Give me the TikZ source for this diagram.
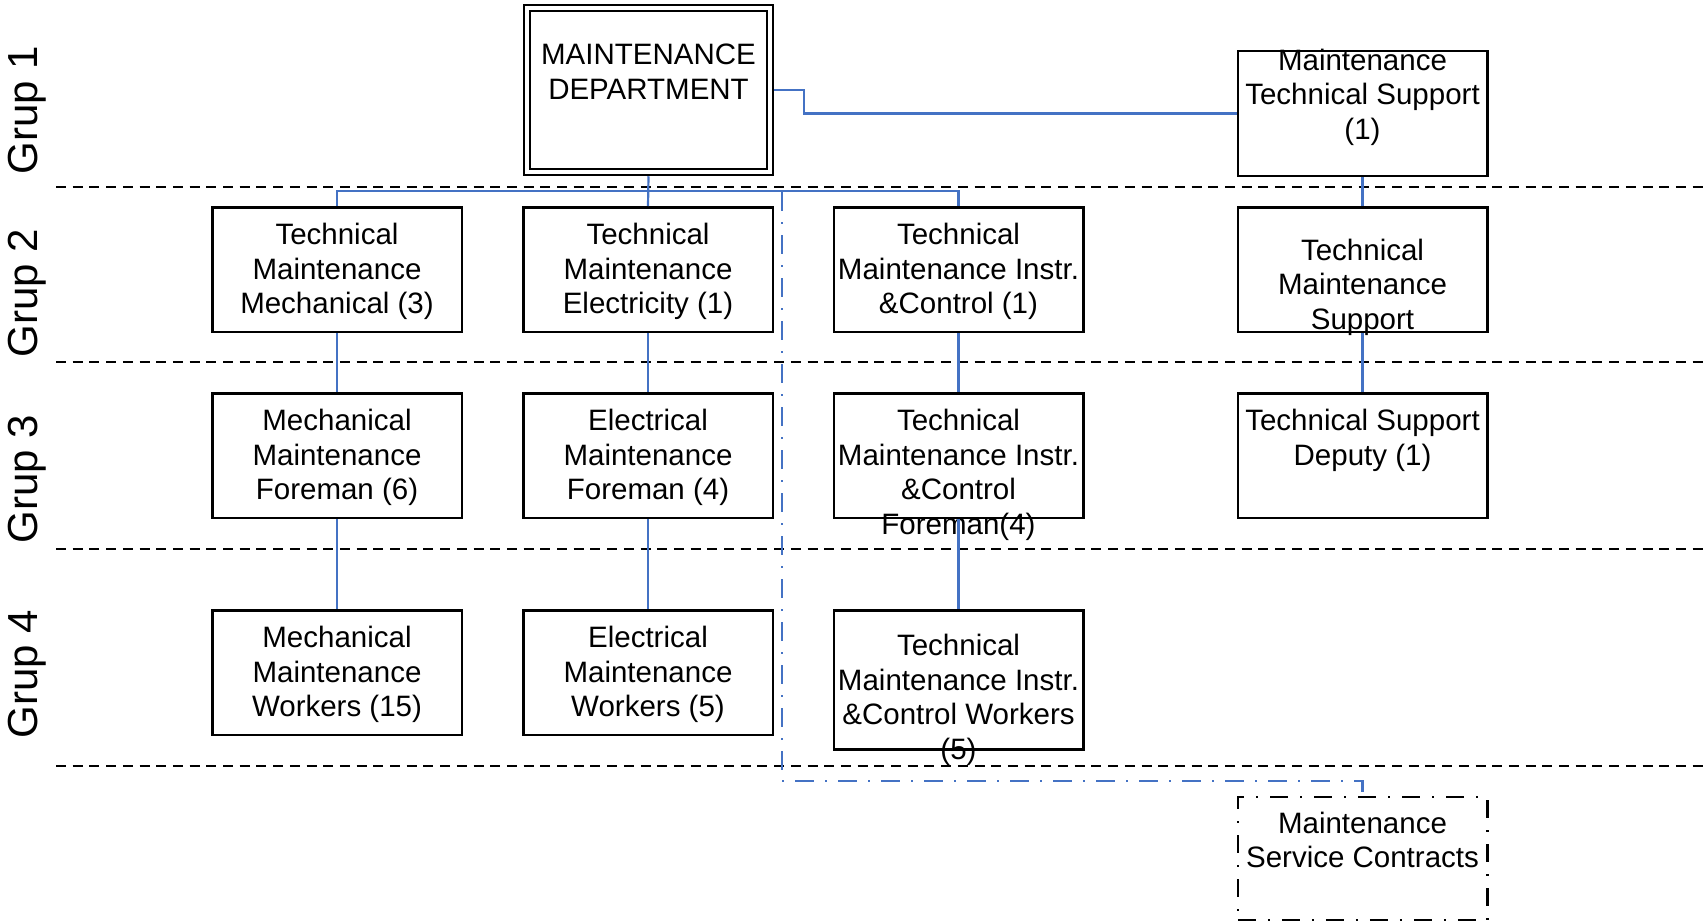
\documentclass[tikz,border=0pt]{standalone}
\usepackage{fontspec}
\setmainfont{Liberation Sans}
\usetikzlibrary{calc}
\definecolor{linkblue}{HTML}{4472C4}
\tikzset{
  unitbox/.style={draw=black, line width=2.5pt, minimum width=249.5pt,
    minimum height=124.5pt, inner sep=0pt},
  deptbox/.style={draw=black, line width=2.5pt, double=white,
    double distance=3.5pt, minimum width=243pt, minimum height=164pt,
    inner sep=0pt, outer sep=4.25pt},
  contractbox/.style={unitbox, dash pattern=on 18pt off 12pt on 2pt off 12pt},
  lbl/.style={anchor=north, inner sep=0pt, align=center,
    font=\fontsize{29.5}{34.5}\selectfont},
  grp/.style={rotate=90, inner sep=0pt, font=\fontsize{42}{50}\selectfont},
  rowsep/.style={draw=black, line width=2.5pt, dash pattern=on 10pt off 6.7pt},
  conn/.style={draw=linkblue, line width=2.2pt},
  ddconn/.style={draw=linkblue, line width=2.2pt,
    dash pattern=on 19pt off 11pt on 2pt off 11pt},
}
% first-line baseline -> top of a strutted label
\newcommand{\boxlabel}[4]{\node[lbl] (#1) at (#2,{#3-24.15}) {\strut #4};}

\begin{document}
\begin{tikzpicture}[x=1pt, y=-1pt]
  \useasboundingbox (0,0) rectangle (1705,923);

  % group separators
  \draw[rowsep] (56,187) -- (1705,187);
  \draw[rowsep] (56,362) -- (1705,362);
  \draw[rowsep] (56,549) -- (1705,549);
  \draw[rowsep] (56,766) -- (1705,766);

  % group captions
  \node[grp] (g1) at (27,110) {Grup 1};
  \node[grp] (g2) at (27,293) {Grup 2};
  \node[grp] (g3) at (27,479) {Grup 3};
  \node[grp] (g4) at (27,674) {Grup 4};

  % boxes
  \node[deptbox] (dept) at (648.5,90) {};
  \node[unitbox] (mts) at (1362.5,113.5) {};

  \node[unitbox] (tmm) at (337,269.5) {};
  \node[unitbox] (tme) at (648,269.5) {};
  \node[unitbox] (tmi) at (958.5,269.5) {};
  \node[unitbox] (tms) at (1362.5,269.5) {};

  \node[unitbox] (mmf) at (337,455.5) {};
  \node[unitbox] (emf) at (648,455.5) {};
  \node[unitbox] (mif) at (958.5,455.5) {};
  \node[unitbox] (tsd) at (1362.5,455.5) {};

  \node[unitbox] (mmw) at (337,672.5) {};
  \node[unitbox] (emw) at (648,672.5) {};
  \node[unitbox, minimum height=139pt] (miw) at (958.5,680) {};

  \node[contractbox, minimum height=123pt] (msc) at (1362.5,858.5) {};

  % box texts
  \boxlabel{t-dept}{648.5}{64.5}{MAINTENANCE\\DEPARTMENT}
  \boxlabel{t-mts}{1362.5}{70}{Maintenance\\Technical Support\\(1)}
  \boxlabel{t-tmm}{337}{244.5}{Technical\\Maintenance\\Mechanical (3)}
  \boxlabel{t-tme}{648}{244.5}{Technical\\Maintenance\\Electricity (1)}
  \boxlabel{t-tmi}{958.5}{244.5}{Technical\\Maintenance Instr.\\\&Control (1)}
  \boxlabel{t-tms}{1362.5}{260}{Technical\\Maintenance\\Support}
  \boxlabel{t-mmf}{337}{430.5}{Mechanical\\Maintenance\\Foreman (6)}
  \boxlabel{t-emf}{648}{430.5}{Electrical\\Maintenance\\Foreman (4)}
  \boxlabel{t-mif}{958.5}{430.5}{Technical\\Maintenance Instr.\\\&Control\\Foreman(4)}
  \boxlabel{t-tsd}{1362.5}{430.5}{Technical Support\\Deputy (1)}
  \boxlabel{t-mmw}{337}{647.5}{Mechanical\\Maintenance\\Workers (15)}
  \boxlabel{t-emw}{648}{647.5}{Electrical\\Maintenance\\Workers (5)}
  \boxlabel{t-miw}{958.5}{655.5}{Technical\\Maintenance Instr.\\\&Control Workers\\(5)}
  \boxlabel{t-msc}{1362.5}{833}{Maintenance\\Service Contracts}

  % reporting lines
  \draw[conn] (dept.south) -- (tme.north);
  \draw[conn] (tmm.north) -- ++(0,-15) -| (tmi.north);
  \draw[conn] (dept.east) -- ++(30,0) |- (mts.west);
  \draw[conn] (mts.south) -- (tms.north);
  \draw[conn] (tms.south) -- (tsd.north);
  \draw[conn] (tmm.south) -- (mmf.north);
  \draw[conn] (mmf.south) -- (mmw.north);
  \draw[conn] (tme.south) -- (emf.north);
  \draw[conn] (emf.south) -- (emw.north);
  \draw[conn] (tmi.south) -- (mif.north);
  \draw[conn] (mif.south) -- (miw.north);

  % contracted services branch
  \coordinate (tap) at (782,192);
  \draw[ddconn] (tap) -- ++(0,589) -| (msc.north);
\end{tikzpicture}
\end{document}
